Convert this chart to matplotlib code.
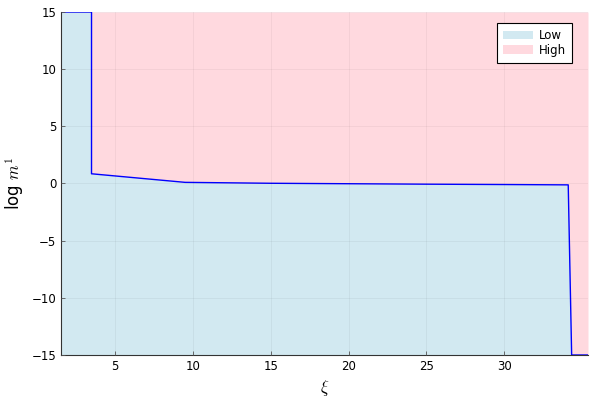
import matplotlib.pyplot as plt
import numpy as np

# boundary curve between the low and high regions
xi = [1.53, 3.49, 3.49, 9.5, 15.0, 20.0, 25.0, 30.0, 34.11, 34.33, 35.38]
logm = [15.0, 15.0, 0.85, 0.1, 0.02, -0.02, -0.06, -0.09, -0.12, -15.0, -15.0]
labels = ['Low', 'High']

plt.rcParams['mathtext.fontset'] = 'cm'

fig = plt.figure(figsize=(6, 4), dpi=100)
ax = fig.add_axes([61/600, 45/400, 527/600, 343/400])

x = np.array(xi)
y = np.array(logm)
ax.fill_between(x, -15, y, color='lightblue', alpha=0.55, linewidth=0, label=labels[0])
ax.fill_between(x, y, 15, color='pink', alpha=0.6, linewidth=0, label=labels[1])
ax.plot(x, y, color='blue', linewidth=1)

ax.set_xlim(x[0], x[-1])
ax.set_ylim(-15, 15)
ax.set_xticks([5, 10, 15, 20, 25, 30])
ax.set_yticks([-15, -10, -5, 0, 5, 10, 15])
ax.grid(True, color='black', alpha=0.05, linewidth=0.6)
ax.set_axisbelow(False)
ax.tick_params(direction='in', length=3, width=0.6, color='#555555', labelsize=8.5)
for s in ['top', 'right']:
    ax.spines[s].set_visible(False)
for s in ['left', 'bottom']:
    ax.spines[s].set_linewidth(0.8)
    ax.spines[s].set_color('#333333')

ax.set_xlabel(r'$\xi$', fontsize=12)
ax.set_ylabel(r'log $m^1$', fontsize=12)

leg = ax.legend(loc='upper right', fontsize=8.5, fancybox=False, framealpha=1,
                edgecolor='black', handlelength=2.5, labelspacing=0.15,
                borderpad=0.5, handletextpad=0.5, bbox_to_anchor=(0.98, 0.985))
leg.get_frame().set_linewidth(0.8)

fig.savefig('out.png')
